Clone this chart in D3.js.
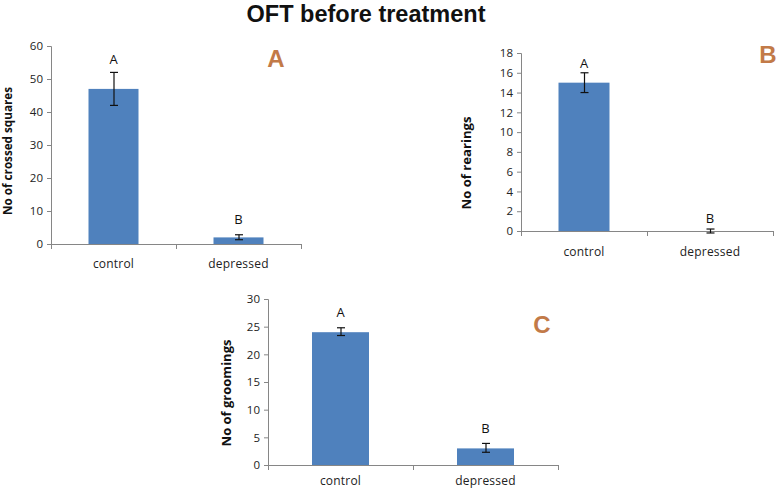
<!DOCTYPE html>
<html><head><meta charset="utf-8">
<script src="https://cdn.jsdelivr.net/npm/d3@7"></script>
<style>
body{margin:0;background:#fff;}
svg{display:block;font-family:"Open Sans","Liberation Sans",Arial,sans-serif;}
</style></head>
<body><svg id="c" width="777" height="490"></svg>
<script>
// ---- data ----
const categories = ["control", "depressed"];
const crossedMean = [47, 2];
const crossedLow  = [42, 1.3];
const crossedHigh = [52, 2.8];
const rearingMean = [15, 0];
const rearingLow  = [14, -0.2];
const rearingHigh = [16, 0.2];
const groomingMean = [24, 3];
const groomingLow  = [23.4, 2.3];
const groomingHigh = [24.8, 3.9];
const groupLetters = ["A", "B"];
const crossedTicks = [0,10,20,30,40,50,60];
const rearingTicks = [0,2,4,6,8,10,12,14,16,18];
const groomingTicks = [0,5,10,15,20,25,30];
const titleText = "OFT before treatment";
const panelTags = ["A","B","C"];
const yTitles = ["No of crossed squares","No of rearings","No of groomings"];

// ---- layout ----
const svg = d3.select("#c");
const barColor = "#4f81bd", axisColor = "#868686", tagColor = "#c27a48";

svg.append("text").attr("x",366).attr("y",22).attr("text-anchor","middle")
  .attr("font-family","'Liberation Sans',Arial,sans-serif")
  .attr("font-size",23.5).attr("font-weight","bold").attr("fill","#111").text(titleText);

const panels = [
  {mean:crossedMean, lo:crossedLow, hi:crossedHigh, ticks:crossedTicks, max:60,
   x0:51, x1:301, y0:244, y1:46, tag:panelTags[0], tagX:276, tagY:67, ytitle:yTitles[0], ytX:12,
   ytY:151, ytLen:128, letterOff:[13,16], catY:268, bw:50},
  {mean:rearingMean, lo:rearingLow, hi:rearingHigh, ticks:rearingTicks, max:18,
   x0:521, x1:773, y0:231, y1:53, tag:panelTags[1], tagX:768, tagY:63, ytitle:yTitles[1], ytX:471,
   ytY:163, ytLen:93, letterOff:[10,11], catY:256, bw:51},
  {mean:groomingMean, lo:groomingLow, hi:groomingHigh, ticks:groomingTicks, max:30,
   x0:268, x1:558, y0:465, y1:299, tag:panelTags[2], tagX:542, tagY:333, ytitle:yTitles[2], ytX:231,
   ytY:393, ytLen:107, letterOff:[16,15], catY:485, bw:57}
];

panels.forEach(p => {
  const g = svg.append("g");
  const x = d3.scaleBand().domain(categories).range([p.x0, p.x1]);
  const y = d3.scaleLinear().domain([0, p.max]).range([p.y0, p.y1]);

  // y axis
  const ya = g.append("g").attr("transform",`translate(${p.x0},0)`)
    .call(d3.axisLeft(y).tickValues(p.ticks).tickSize(4).tickPadding(4));
  ya.select(".domain").attr("stroke",axisColor);
  ya.selectAll(".tick line").attr("stroke",axisColor);
  ya.selectAll("text").attr("font-size",11.5).attr("font-family","'Open Sans',sans-serif").attr("fill","#222");

  // x axis baseline with ticks at band edges
  g.append("line").attr("x1",p.x0).attr("x2",p.x1).attr("y1",p.y0+0.5).attr("y2",p.y0+0.5)
    .attr("stroke",axisColor);
  const edges = [p.x0, p.x0 + x.step(), p.x1];
  g.selectAll(".xt").data(edges).enter().append("line")
    .attr("x1",d=>d+0.5).attr("x2",d=>d+0.5).attr("y1",p.y0).attr("y2",p.y0+5).attr("stroke",axisColor);
  g.selectAll(".xl").data(categories).enter().append("text")
    .attr("x",d=>x(d)+x.bandwidth()/2).attr("y",p.catY).attr("text-anchor","middle")
    .attr("font-size",12).attr("letter-spacing",0.2).attr("fill","#222").text(d=>d);

  const cx = d => x(d)+x.bandwidth()/2;
  // bars
  g.selectAll(".bar").data(categories).enter().append("rect")
    .attr("x",d=>cx(d)-p.bw/2).attr("width",p.bw)
    .attr("y",(d,i)=>y(Math.max(0,p.mean[i])))
    .attr("height",(d,i)=>y(0)-y(Math.max(0,p.mean[i])))
    .attr("fill",barColor);

  // error bars
  categories.forEach((d,i)=>{
    const c = cx(d)+0.5;
    g.append("line").attr("x1",c).attr("x2",c).attr("y1",y(p.lo[i])).attr("y2",y(p.hi[i]))
      .attr("stroke","#111").attr("stroke-width",1.2);
    [p.lo[i], p.hi[i]].forEach(v=>{
      g.append("line").attr("x1",c-4).attr("x2",c+4).attr("y1",y(v)).attr("y2",y(v))
        .attr("stroke","#111").attr("stroke-width",1.2);
    });
    g.append("text").attr("x",cx(d)).attr("y",y(p.hi[i])-p.letterOff[i]+5)
      .attr("text-anchor","middle").attr("font-size",13).attr("fill","#111").text(groupLetters[i]);
  });

  // panel tag
  g.append("text").attr("x",p.tagX).attr("y",p.tagY).attr("text-anchor","middle")
    .attr("font-family","'Liberation Sans',Arial,sans-serif")
    .attr("font-size",24).attr("font-weight","bold").attr("fill",tagColor).text(p.tag);

  // y title (fit to reference length)
  const t = g.append("text").attr("transform",`translate(${p.ytX},${p.ytY}) rotate(-90)`)
    .attr("text-anchor","middle").attr("font-size",12)
    .attr("font-weight","bold").attr("fill","#111").text(p.ytitle);
  const len = t.node().getComputedTextLength();
  t.attr("font-size", 12 * p.ytLen / len);
});
</script></body></html>
